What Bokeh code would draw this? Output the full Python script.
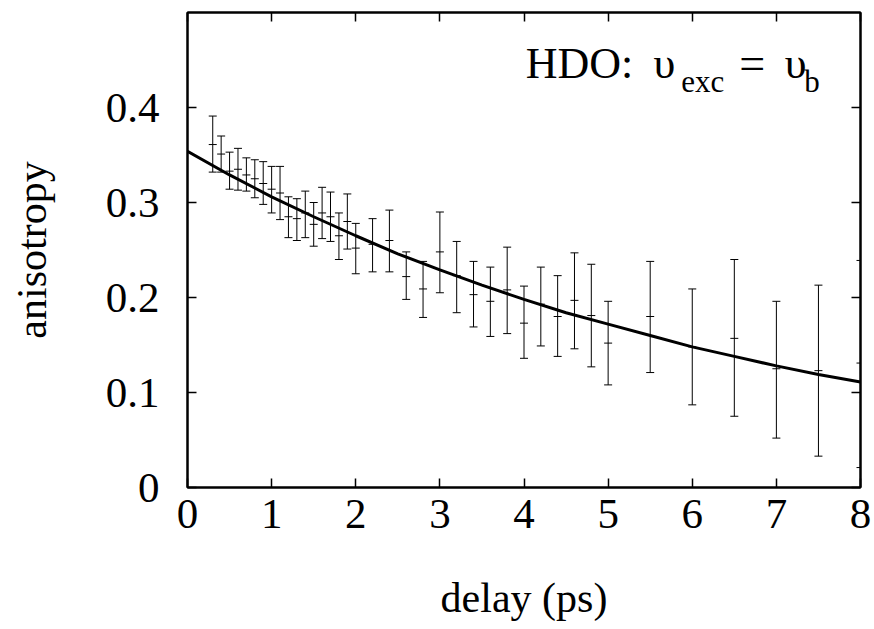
from bokeh.plotting import figure
from bokeh.models import (ColumnDataSource, Whisker, TeeHead, FixedTicker, LinearAxis,
                          CustomJSTickFormatter, Label, Range1d)
from bokeh.embed import file_html
from bokeh.resources import INLINE

# ---- data ----
delay = [0.3, 0.4, 0.5, 0.6, 0.7, 0.8, 0.9, 1.0, 1.1, 1.2, 1.3, 1.4, 1.5, 1.6, 1.7, 1.8,
         1.9, 2.0, 2.2, 2.4, 2.6, 2.8, 3.0, 3.2, 3.4, 3.6, 3.8, 4.0, 4.2, 4.4, 4.6, 4.8,
         5.0, 5.5, 6.0, 6.5, 7.0, 7.5, 8.0]
aniso = [0.361, 0.351, 0.333, 0.335, 0.329, 0.325, 0.320, 0.314, 0.310, 0.285, 0.283,
         0.289, 0.277, 0.289, 0.285, 0.265, 0.280, 0.252, 0.256, 0.260, 0.222, 0.209,
         0.248, 0.223, 0.203, 0.196, 0.208, 0.173, 0.193, 0.180, 0.197, 0.181, 0.152,
         0.180, 0.148, 0.157, 0.125, 0.123, 0.131]
upper = [0.391, 0.370, 0.353, 0.357, 0.347, 0.345, 0.343, 0.338, 0.338, 0.306, 0.304,
         0.312, 0.300, 0.316, 0.311, 0.289, 0.309, 0.278, 0.283, 0.292, 0.248, 0.238,
         0.290, 0.259, 0.238, 0.232, 0.253, 0.212, 0.232, 0.223, 0.247, 0.235, 0.196,
         0.238, 0.209, 0.240, 0.196, 0.213, 0.239]
lower = [0.332, 0.332, 0.314, 0.313, 0.312, 0.305, 0.298, 0.289, 0.282, 0.263, 0.260,
         0.263, 0.254, 0.262, 0.259, 0.240, 0.251, 0.225, 0.227, 0.227, 0.198, 0.179,
         0.205, 0.184, 0.169, 0.159, 0.162, 0.136, 0.149, 0.138, 0.146, 0.127, 0.108,
         0.121, 0.087, 0.075, 0.052, 0.033, 0.021]

# fitted curve
fit_delay = [0.0, 0.5, 1.0, 1.5, 2.0, 2.5, 3.0, 3.5, 4.0, 4.5, 5.0, 5.5, 6.0, 6.5, 7.0, 7.5, 8.0]
fit_aniso = [0.354, 0.329, 0.306, 0.285, 0.265, 0.246, 0.229, 0.213, 0.198, 0.184, 0.172,
             0.160, 0.148, 0.138, 0.128, 0.119, 0.111]

x_ticks = [0, 1, 2, 3, 4, 5, 6, 7, 8]
y_ticks = [0, 0.1, 0.2, 0.3, 0.4]

FONT = "Liberation Serif"

p = figure(width=874, height=629, output_backend="svg", toolbar_location=None,
           x_range=Range1d(0, 8), y_range=Range1d(0, 0.5),
           min_border_left=187, min_border_right=14, min_border_top=12, min_border_bottom=142)
p.grid.visible = False
p.outline_line_color = "black"
p.outline_line_width = 2
p.background_fill_color = "white"
p.border_fill_color = "white"

src = ColumnDataSource(dict(x=delay, y=aniso, up=upper, lo=lower))

wh = Whisker(source=src, base="x", upper="up", lower="lo", dimension="height",
             line_color="black", line_width=1,
             upper_head=TeeHead(size=8, line_color="black", line_width=1),
             lower_head=TeeHead(size=8, line_color="black", line_width=1))
p.add_layout(wh)
p.dash(x="x", y="y", source=src, size=8, line_color="black", line_width=1, angle=0)

p.line(fit_delay, fit_aniso, line_color="black", line_width=3)

# axes styling
for ax in (p.xaxis[0], p.yaxis[0]):
    ax.axis_line_color = "black"
    ax.axis_line_width = 2
    ax.major_tick_in = 9
    ax.major_tick_out = 0
    ax.minor_tick_line_color = None
    ax.major_tick_line_width = 1.5
    ax.major_label_text_font = FONT
    ax.major_label_text_font_size = "43px"
    ax.major_label_text_color = "black"
    ax.axis_label_text_font = FONT
    ax.axis_label_text_font_size = "42px"
    ax.axis_label_text_font_style = "normal"
    ax.axis_label_text_color = "black"

p.xaxis[0].ticker = FixedTicker(ticks=x_ticks)
p.yaxis[0].ticker = FixedTicker(ticks=y_ticks)
p.yaxis[0].formatter = CustomJSTickFormatter(code="return tick === 0 ? '0' : tick.toFixed(1);")
p.xaxis[0].axis_label = "delay (ps)"
p.yaxis[0].axis_label = "anisotropy"
p.xaxis[0].major_label_standoff = 12
p.xaxis[0].axis_label_standoff = 44
p.yaxis[0].major_label_standoff = 28
p.yaxis[0].axis_label_standoff = 48

# mirrored ticks
for loc, ticks in (("above", x_ticks), ("right", y_ticks)):
    ax = LinearAxis(ticker=FixedTicker(ticks=ticks))
    ax.major_tick_in = 9
    ax.major_tick_out = 0
    ax.major_tick_line_width = 1.5
    ax.minor_tick_line_color = None
    ax.axis_line_color = "black"
    ax.axis_line_width = 2
    ax.major_label_text_font_size = "0px"
    ax.major_label_standoff = 0
    ax.major_label_text_alpha = 0
    p.add_layout(ax, loc)

# annotation text  "HDO: υexc = υb"
pieces = [
    ("HDO:", 4.02, 0.446, "44px"),
    ("υ", 5.54, 0.446, "44px"),
    ("exc", 5.87, 0.427, "31px"),
    ("=", 6.56, 0.446, "46px"),
    ("υ", 7.10, 0.446, "44px"),
    ("b", 7.33, 0.427, "31px"),
]
for txt, xx, yy, fs in pieces:
    p.add_layout(Label(x=xx, y=yy, text=txt, text_font=FONT, text_font_size=fs,
                       text_baseline="alphabetic", text_align="left", text_color="black"))

open("out.html", "w").write(file_html(p, INLINE))
